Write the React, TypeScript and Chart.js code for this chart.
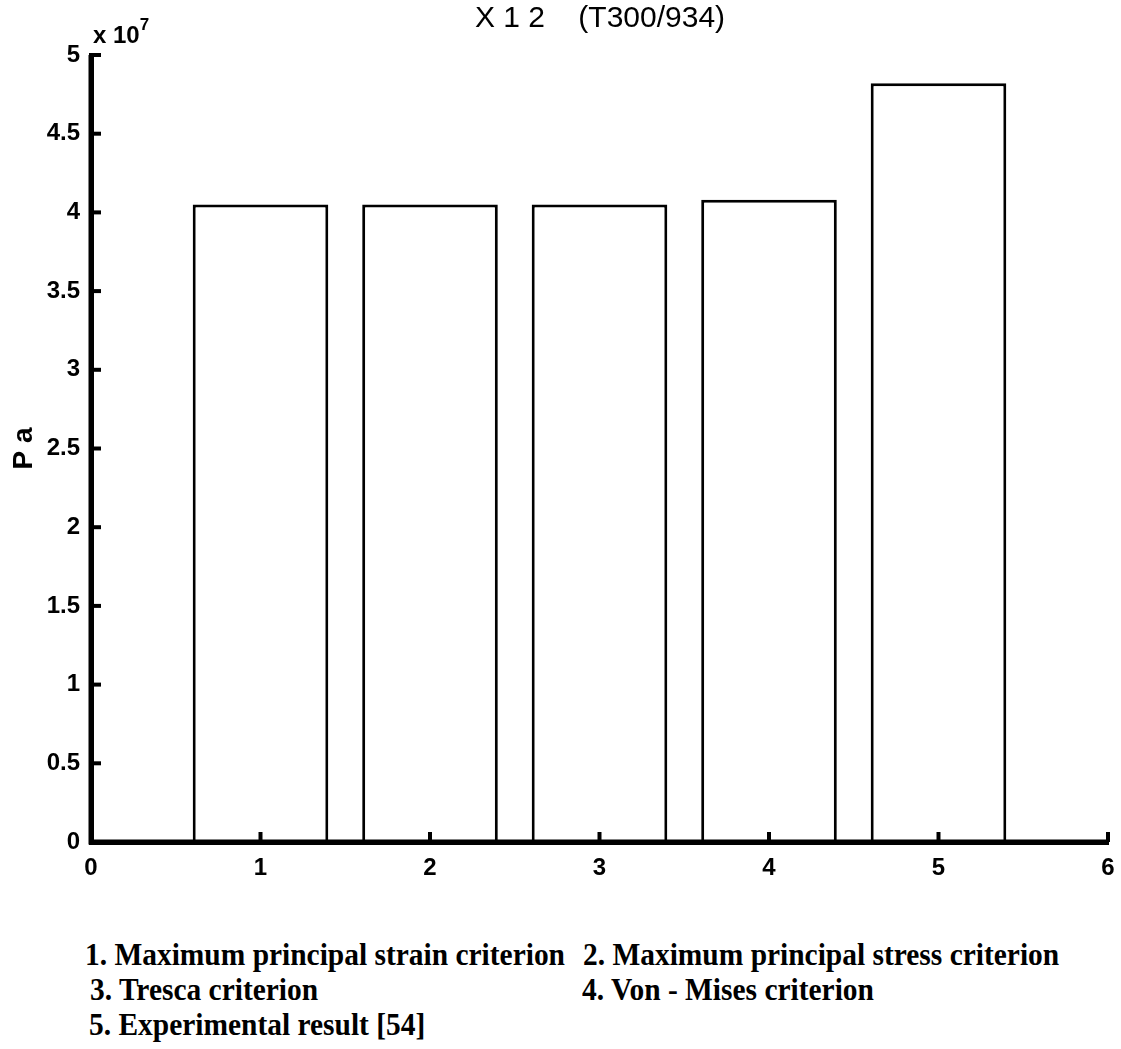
import React, { useEffect, useRef } from "react";
import { Chart, registerables } from "chart.js";

Chart.register(...registerables);

// ---- data ----
const criteria: number[] = [1, 2, 3, 4, 5];
const strengthPa: number[] = [4.05e7, 4.05e7, 4.05e7, 4.08e7, 4.82e7];
const yTickValues: number[] = [0, 0.5e7, 1e7, 1.5e7, 2e7, 2.5e7, 3e7, 3.5e7, 4e7, 4.5e7, 5e7];
const xTickValues: number[] = [0, 1, 2, 3, 4, 5, 6];
const titleText = "X 1 2    (T300/934)";
const yAxisTitle = "P a";
const exponentBase = "x 10";
const exponentPower = "7";
const notes: { text: string; left: number; top: number }[] = [
  { text: "1. Maximum principal strain criterion", left: 85, top: 936 },
  { text: "2. Maximum principal stress criterion", left: 583, top: 936 },
  { text: "3. Tresca criterion", left: 90, top: 971 },
  { text: "4. Von - Mises criterion", left: 582, top: 971 },
  { text: "5. Experimental result [54]", left: 89, top: 1006 },
];

const W = 1121;
const CH = 900;
const SANS = "'Liberation Sans', Arial, Helvetica, sans-serif";
const SERIF = "'Liberation Serif', 'Times New Roman', serif";

const axesOnTop = {
  id: "axesOnTop",
  afterDatasetsDraw(chart: any) {
    const { ctx, chartArea, scales } = chart;
    ctx.save();
    ctx.strokeStyle = "#000";
    ctx.lineCap = "butt";
    // axis lines
    ctx.lineWidth = 5;
    ctx.beginPath();
    ctx.moveTo(chartArea.left, chartArea.top);
    ctx.lineTo(chartArea.left, chartArea.bottom + 2.5);
    ctx.moveTo(chartArea.left - 2.5, chartArea.bottom);
    ctx.lineTo(chartArea.right, chartArea.bottom);
    ctx.stroke();
    // inward ticks
    ctx.lineWidth = 4;
    const xs = scales.x;
    xTickValues.forEach((v) => {
      const px = xs.getPixelForValue(v);
      ctx.beginPath();
      ctx.moveTo(px, chartArea.bottom);
      ctx.lineTo(px, chartArea.bottom - 10);
      ctx.stroke();
    });
    const ys = scales.y;
    yTickValues.forEach((v) => {
      const py = ys.getPixelForValue(v);
      ctx.beginPath();
      ctx.moveTo(chartArea.left, py);
      ctx.lineTo(chartArea.left + 10, py);
      ctx.stroke();
    });
    ctx.restore();
  },
};

export default function App() {
  const ref = useRef<HTMLCanvasElement | null>(null);

  useEffect(() => {
    document.body.style.margin = "0";
    const canvas = ref.current;
    if (!canvas) return;
    const chart = new Chart(canvas, {
      type: "bar",
      data: {
        datasets: [
          {
            data: criteria.map((c, i) => ({ x: c, y: strengthPa[i] })),
            backgroundColor: "#ffffff",
            borderColor: "#000000",
            borderWidth: 3,
            borderSkipped: "bottom",
            categoryPercentage: 1,
            barPercentage: 0.8,
          } as any,
        ],
      },
      plugins: [axesOnTop],
      options: {
        responsive: false,
        animation: false,
        layout: { padding: { left: 0, right: 13, top: 55, bottom: 0 } },
        plugins: {
          legend: { display: false },
          tooltip: { enabled: false },
          title: { display: false },
        },
        scales: {
          x: {
            type: "linear",
            min: 0,
            max: 6,
            offset: false,
            grid: { display: false },
            border: { display: true, width: 5, color: "#000" },
            afterFit: (s: any) => {
              s.height = CH - 842;
            },
            afterBuildTicks: (s: any) => {
              s.ticks = xTickValues.map((v) => ({ value: v }));
            },
            ticks: {
              color: "#000",
              padding: 4,
              maxRotation: 0,
              font: { family: SANS, size: 24, weight: "bold" },
              callback: (v: any) => String(v),
            },
          },
          y: {
            min: 0,
            max: 5e7,
            grid: { display: false },
            border: { display: true, width: 5, color: "#000" },
            afterFit: (s: any) => {
              s.width = 91;
            },
            afterBuildTicks: (s: any) => {
              s.ticks = yTickValues.map((v) => ({ value: v }));
            },
            title: {
              display: true,
              text: yAxisTitle,
              color: "#000",
              padding: { top: 7, bottom: 0 },
              font: { family: SANS, size: 28, weight: "bold" },
            },
            ticks: {
              color: "#000",
              padding: 3,
              font: { family: SANS, size: 24, weight: "bold" },
              callback: (v: any) => String(Math.round(Number(v) / 1e6) / 10),
            },
          },
        },
      } as any,
    });
    return () => chart.destroy();
  }, []);

  return (
    <div style={{ position: "relative", width: W, height: 1049, background: "#fff", overflow: "hidden" }}>
      <canvas ref={ref} width={W} height={CH} style={{ position: "absolute", left: 0, top: 0 }} />
      <div
        style={{
          position: "absolute",
          left: 400,
          width: 400,
          top: 2,
          textAlign: "center",
          whiteSpace: "pre",
          fontFamily: SANS,
          fontSize: 30,
          lineHeight: "30px",
          color: "#000",
        }}
      >
        {titleText}
      </div>
      <div
        style={{
          position: "absolute",
          left: 93,
          top: 23,
          whiteSpace: "pre",
          fontFamily: SANS,
          fontSize: 24,
          lineHeight: "24px",
          fontWeight: "bold",
          color: "#000",
        }}
      >
        <span>{exponentBase}</span>
        <span style={{ position: "relative", top: -13, fontSize: 17 }}>{exponentPower}</span>
      </div>
      {notes.map((n, i) => (
        <div
          key={i}
          style={{
            position: "absolute",
            left: n.left,
            top: n.top,
            whiteSpace: "pre",
            fontFamily: SERIF,
            fontSize: 32,
            lineHeight: "36px",
            fontWeight: "bold",
            color: "#000",
            transform: "scaleX(0.92)",
            transformOrigin: "left top",
          }}
        >
          {n.text}
        </div>
      ))}
    </div>
  );
}
